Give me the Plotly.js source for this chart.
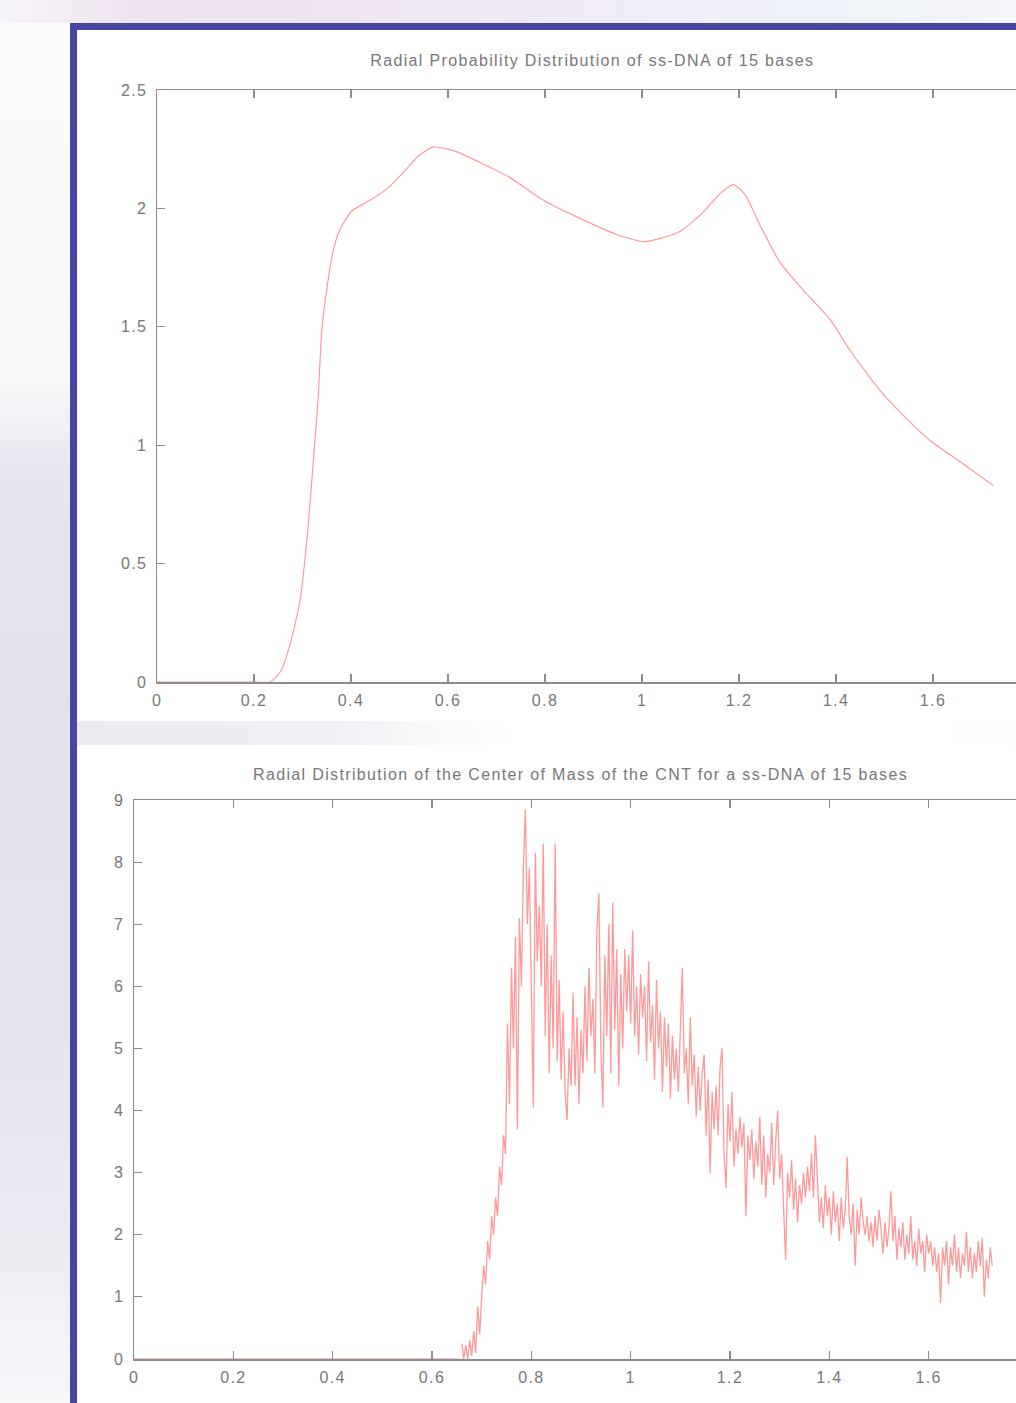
<!DOCTYPE html>
<html>
<head>
<meta charset="utf-8">
<script src="https://cdn.plot.ly/plotly-3.0.1.min.js"></script>
<style>
  html, body { margin: 0; padding: 0; width: 1016px; height: 1403px; overflow: hidden; background: #ffffff; }
  #bg { position: absolute; left: 0; top: 0; width: 1016px; height: 1403px;
        background:
          linear-gradient(to right, #f6f4f8 0px, #eee3ef 150px, #efe6f2 350px, #f1ecf6 600px, #eef1f7 800px, #f4f6fa 1016px) top left / 1016px 23px no-repeat,
          linear-gradient(to bottom, #fbfbfc 0px, #f8f8fa 380px, #e6e6ef 480px, #e2e2ec 700px, #e4e4ee 1000px, #ececf3 1250px, #f8f8fb 1403px) left top / 70px 1403px no-repeat,
          #ffffff; }
  #frame { position: absolute; left: 70px; top: 23px; width: 1000px; height: 1400px;
           border-left: 7px solid #4747a1; border-top: 7px solid #4747a1; background: #ffffff; }
  #band { position: absolute; left: 77px; top: 721px; width: 939px; height: 24px;
          background: linear-gradient(to right, #ebebf1 0px, #efeff4 250px, #fafafc 360px, #ffffff 440px, #ffffff 850px, #fbfbfb 1016px); }
  #chart { position: absolute; left: 0; top: 0; width: 1100px; height: 1403px; }
  #chart svg text { letter-spacing: 1.35px; }
</style>
</head>
<body>
<div id="bg"></div>
<div id="frame"></div>
<div id="band"></div>
<div id="chart"></div>
<script>
// ---- Data: top chart (radial probability distribution) ----
const topX = [0, 0.1, 0.2, 0.233, 0.254, 0.274, 0.295, 0.311, 0.324, 0.332, 0.340, 0.353, 0.363, 0.377, 0.402, 0.44, 0.478, 0.507, 0.538, 0.57, 0.617, 0.68, 0.728, 0.792, 0.87, 0.948, 1.006, 1.076, 1.124, 1.16, 1.188, 1.212, 1.243, 1.285, 1.326, 1.388, 1.429, 1.491, 1.532, 1.594, 1.656, 1.724];
const topY = [0, 0, 0, 0, 0.042, 0.156, 0.346, 0.642, 0.98, 1.19, 1.49, 1.70, 1.82, 1.91, 1.99, 2.035, 2.09, 2.15, 2.22, 2.26, 2.24, 2.18, 2.13, 2.04, 1.96, 1.89, 1.86, 1.90, 1.98, 2.06, 2.10, 2.06, 1.93, 1.77, 1.67, 1.53, 1.40, 1.23, 1.14, 1.02, 0.93, 0.83];

// ---- Data: bottom chart (radial distribution of CNT centre of mass) ----
const baseX = [0, 0.656];
const baseY = [0, 0];
const comStart = 0.660;
const comStep = 0.004;
const comY = [
  0.25, 0, 0.22, 0, 0.3, 0.05, 0.45, 0.1, 0.85, 0.4,
  1.0, 1.5, 1.2, 1.9, 1.6, 2.3, 2.0, 2.6, 2.3, 3.1,
  2.8, 3.6, 3.3, 5.4, 4.1, 6.3, 5.0, 6.8, 3.7, 7.1,
  6.0, 7.9, 8.85, 7.0, 7.9, 6.2, 4.05, 8.15, 6.4, 7.3,
  6.0, 8.3, 5.2, 7.0, 4.6, 6.5, 5.0, 8.3, 4.8, 6.1,
  4.5, 5.6, 4.3, 3.85, 5.0, 4.4, 5.9, 4.4, 5.5, 4.1,
  5.3, 4.6, 6.0, 4.8, 6.3, 5.2, 5.8, 4.6, 6.9, 7.5,
  5.0, 4.05, 6.5, 5.2, 7.0, 4.6, 7.35, 5.3, 6.6, 4.4,
  6.2, 5.0, 6.6, 5.6, 6.5, 5.4, 6.9, 5.2, 6.0, 4.9,
  6.2, 5.5, 6.0, 4.8, 6.4, 5.1, 5.7, 4.5, 6.1, 5.0,
  5.6, 4.3, 5.5, 4.7, 5.4, 4.2, 5.2, 4.5, 5.0, 4.3,
  5.3, 6.3, 4.6, 5.0, 4.1, 5.5, 4.4, 4.9, 3.9, 4.7,
  4.0, 4.6, 4.9, 3.6, 4.5, 3.0, 4.3, 3.7, 4.4, 3.6,
  4.7, 5.0, 3.3, 2.75, 4.1, 3.5, 4.3, 3.1, 3.7, 3.3,
  3.9, 3.4, 3.8, 2.3, 3.6, 3.2, 3.7, 2.9, 3.5, 3.1,
  3.9, 2.8, 3.6, 2.6, 3.3, 3.0, 3.8, 2.8, 3.5, 4.0,
  2.9, 3.3, 2.4, 1.6, 3.0, 2.6, 3.2, 2.4, 2.9, 2.2,
  2.8, 2.5, 3.0, 2.6, 3.1, 2.7, 3.3, 2.6, 3.6, 2.9,
  2.2, 2.6, 2.1, 2.8, 2.3, 2.6, 2.0, 2.7, 2.2, 2.5,
  1.9, 2.6, 2.1, 2.4, 3.25, 2.3, 2.0, 2.5, 1.5, 2.4,
  2.0, 2.6, 2.2, 2.0, 2.3, 1.9, 2.2, 1.8, 2.3, 1.9,
  2.4, 2.1, 1.7, 2.2, 1.8, 2.1, 2.7, 1.9, 2.3, 1.6,
  2.1, 1.8, 2.2, 1.6, 2.0, 1.7, 2.3, 1.6, 1.9, 1.5,
  2.1, 1.7, 1.9, 1.4, 2.0, 1.7, 1.9, 1.5, 1.8, 1.4,
  1.7, 0.9, 1.8, 1.5, 1.9, 1.2, 1.8, 1.5, 2.0, 1.4,
  1.8, 1.3, 1.7, 1.5, 2.05, 1.4, 1.8, 1.3, 1.7, 1.4,
  1.9, 1.5, 1.95, 1.0, 1.6, 1.3, 1.8, 1.5
];
const comX = comY.map((_, i) => +(comStart + i * comStep).toFixed(3));

const xTickVals = [0, 0.2, 0.4, 0.6, 0.8, 1, 1.2, 1.4, 1.6];
const titles = [
  'Radial Probability Distribution of ss-DNA of 15 bases',
  'Radial Distribution of the Center of Mass of the CNT for a ss-DNA of 15 bases'
];

// ---- Layout geometry (pixels) ----
const W = 1100, H = 1403;
const px = v => v / W;
const py = v => 1 - v / H;
const FONT = 'Liberation Sans, Arial, sans-serif';

const axisCommon = {
  showgrid: false, zeroline: false,
  showline: true, linecolor: '#8c8c8c', linewidth: 1.5,
  mirror: 'ticks', ticks: 'inside', ticklen: 8, tickwidth: 1.2, tickcolor: '#8c8c8c',
  tickfont: { family: FONT, size: 16, color: '#777777' },
  fixedrange: true
};

const traces = [
  { x: topX, y: topY, xaxis: 'x', yaxis: 'y', mode: 'lines',
    line: { color: '#ff9a9a', width: 1.2, shape: 'spline', smoothing: 0.6 }, hoverinfo: 'skip' },
  { x: baseX, y: baseY, xaxis: 'x2', yaxis: 'y2', mode: 'lines',
    line: { color: 'rgba(225,100,100,0.7)', width: 1.2 }, hoverinfo: 'skip' },
  { x: comX, y: comY, xaxis: 'x2', yaxis: 'y2', mode: 'lines',
    line: { color: 'rgba(255,70,70,0.55)', width: 1.3 }, hoverinfo: 'skip' }
];

const layout = {
  width: W, height: H,
  margin: { l: 0, r: 0, t: 0, b: 0 },
  paper_bgcolor: 'rgba(0,0,0,0)',
  plot_bgcolor: '#ffffff',
  showlegend: false,
  xaxis: Object.assign({}, axisCommon, { domain: [px(157), px(1030)], range: [0, 1.8], tickvals: xTickVals, anchor: 'y', ticklabelstandoff: 3 }),
  yaxis: Object.assign({}, axisCommon, { domain: [py(682), py(90)], range: [0, 2.5], dtick: 0.5, anchor: 'x', ticklabelstandoff: 5 }),
  xaxis2: Object.assign({}, axisCommon, { domain: [px(134), px(1028)], range: [0, 1.8], tickvals: xTickVals, anchor: 'y2', ticklabelstandoff: 3 }),
  yaxis2: Object.assign({}, axisCommon, { domain: [py(1359), py(800)], range: [0, 9], dtick: 1, anchor: 'x2', ticklabelstandoff: 5 }),
  annotations: [
    { text: titles[0], xref: 'paper', yref: 'paper', x: px(592), y: py(61), xanchor: 'center', yanchor: 'middle', showarrow: false,
      font: { family: FONT, size: 16, color: '#777777' } },
    { text: titles[1], xref: 'paper', yref: 'paper', x: px(580), y: py(774), xanchor: 'center', yanchor: 'middle', showarrow: false,
      font: { family: FONT, size: 16, color: '#777777' } }
  ]
};

Plotly.newPlot('chart', traces, layout, { staticPlot: true, displayModeBar: false });
</script>
</body>
</html>
